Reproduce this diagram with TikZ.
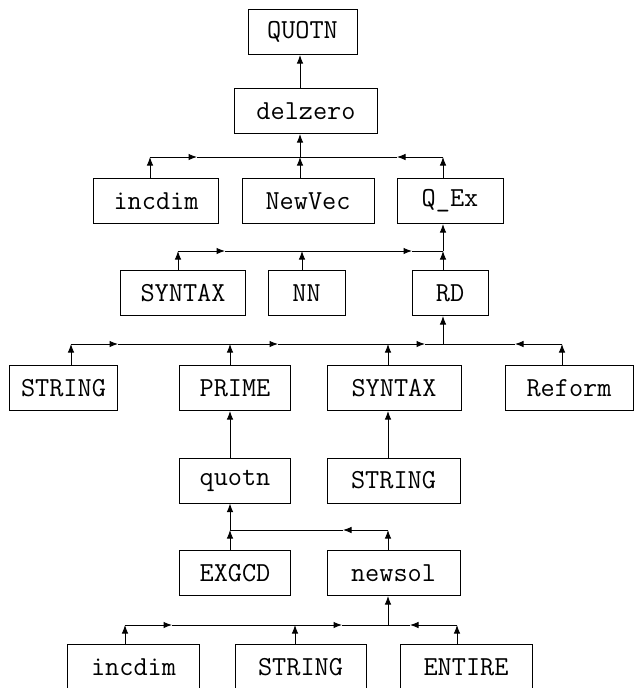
\documentclass[tikz,border=0pt]{standalone}
\usetikzlibrary{positioning,arrows.meta}
\begin{document}
\begin{tikzpicture}[x=0.4pt,y=-0.4pt,>={Latex[length=3.4pt,width=2.6pt]},box/.style={draw,shape=rectangle,font=\fontsize{11}{13}\ttfamily,minimum height=18pt,inner sep=0pt}]
   \useasboundingbox (0,0) rectangle (634,688);
   \clip (0,0) rectangle (634,688);
   % modules
   \node[box,minimum width=43.6pt] (QUOTN)    at (302.5,32)  { QUOTN   } ;
   \node[box,minimum width=56.8pt] (delzero)  at (306,111)   { delzero } ;
   \node[box,minimum width=49.6pt] (incdim)   at (156,201)   { incdim  } ;
   \node[box,minimum width=52.8pt] (NewVec)   at (308,201)   { NewVec  } ;
   \node[box,minimum width=42.4pt] (QEx)      at (450,201)   { Q\_Ex   } ;
   \node[box,minimum width=49.6pt] (SYNTAX)   at (183,293)   { SYNTAX  } ;
   \node[box,minimum width=30.8pt] (NN)       at (306.5,293) { NN      } ;
   \node[box,minimum width=30.4pt] (RD)       at (450,293)   { RD      } ;
   \node[box,minimum width=42.8pt] (STRING)   at (63.5,388)  { STRING  } ;
   \node[box,minimum width=44pt  ] (PRIME)    at (235,388)   { PRIME   } ;
   \node[box,minimum width=53.6pt] (SYNTAX2)  at (394,388)   { SYNTAX  } ;
   \node[box,minimum width=51.2pt] (Reform)   at (569,388)   { Reform  } ;
   \node[box,minimum width=44pt  ] (quotn)    at (235,480.5) { quotn   } ;
   \node[box,minimum width=53.2pt] (STRING2)  at (393.5,480.5) { STRING } ;
   \node[box,minimum width=44pt  ] (EXGCD)    at (235,573)   { EXGCD   } ;
   \node[box,minimum width=53.2pt] (newsol)   at (393.5,573) { newsol  } ;
   \node[box,minimum width=52.4pt] (incdim2)  at (133.5,667) { incdim  } ;
   \node[box,minimum width=52.4pt] (STRING3)  at (300.5,667) { STRING  } ;
   \node[box,minimum width=52.8pt] (ENTIRE)   at (466,667)   { ENTIRE  } ;
   % junctions on the buses
   \coordinate (j11) at (150,157); \coordinate (j12) at (300,157); \coordinate (j13) at (443,157);
   \coordinate (a11) at (197,157); \coordinate (a13) at (397,157);
   \coordinate (j21) at (178,251); \coordinate (j22) at (302,251); \coordinate (j23) at (443,251);
   \coordinate (a21) at (225,251); \coordinate (a22) at (412,251);
   \coordinate (j31) at (71,344);  \coordinate (j32) at (230,344); \coordinate (j33) at (388,344);
   \coordinate (j34) at (443,344); \coordinate (j35) at (562,344);
   \coordinate (a31) at (118,344); \coordinate (a32) at (278,344); \coordinate (a33) at (425,344);
   \coordinate (a35) at (515,344);
   \coordinate (j41) at (230,530); \coordinate (j42) at (388,530); \coordinate (a42) at (343,530);
   \coordinate (j51) at (125,625); \coordinate (j52) at (295,625); \coordinate (j53) at (388,625);
   \coordinate (j54) at (457,625);
   \coordinate (a51) at (172,625); \coordinate (a52) at (342,625); \coordinate (a54) at (410,625);
   % delzero -> QUOTN
   \draw[->] (delzero.north -| j12) -- (QUOTN.south -| j12);
   % incdim, NewVec, Q_Ex -> delzero
   \draw[->] (incdim.north -| j11) -- (j11);
   \draw[->] (j11) -- (a11); \draw (a11) -- (j12);
   \draw[->] (NewVec.north -| j12) -- (j12);
   \draw[->] (QEx.north -| j13) -- (j13);
   \draw[->] (j13) -- (a13); \draw (a13) -- (j12);
   \draw[->] (j12) -- (delzero.south -| j12);
   % SYNTAX, NN, RD -> Q_Ex
   \draw[->] (SYNTAX.north -| j21) -- (j21);
   \draw[->] (j21) -- (a21); \draw (a21) -- (j22);
   \draw[->] (NN.north -| j22) -- (j22);
   \draw[->] (j22) -- (a22); \draw (a22) -- (j23);
   \draw[->] (RD.north -| j23) -- (j23);
   \draw[->] (j23) -- (QEx.south -| j23);
   % STRING, PRIME, SYNTAX, Reform -> RD
   \draw[->] (STRING.north -| j31) -- (j31);
   \draw[->] (j31) -- (a31); \draw (a31) -- (j32);
   \draw[->] (PRIME.north -| j32) -- (j32);
   \draw[->] (j32) -- (a32); \draw (a32) -- (j33);
   \draw[->] (SYNTAX2.north -| j33) -- (j33);
   \draw[->] (j33) -- (a33); \draw (a33) -- (j34);
   \draw[->] (Reform.north -| j35) -- (j35);
   \draw[->] (j35) -- (a35); \draw (a35) -- (j34);
   \draw[->] (j34) -- (RD.south -| j34);
   % quotn -> PRIME, STRING -> SYNTAX
   \draw[->] (quotn.north -| j32) -- (PRIME.south -| j32);
   \draw[->] (STRING2.north -| j33) -- (SYNTAX2.south -| j33);
   % EXGCD, newsol -> quotn
   \draw[->] (EXGCD.north -| j41) -- (j41);
   \draw[->] (newsol.north -| j42) -- (j42);
   \draw[->] (j42) -- (a42); \draw (a42) -- (j41);
   \draw[->] (j41) -- (quotn.south -| j41);
   % incdim, STRING, ENTIRE -> newsol
   \draw[->] (incdim2.north -| j51) -- (j51);
   \draw[->] (j51) -- (a51); \draw (a51) -- (j52);
   \draw[->] (STRING3.north -| j52) -- (j52);
   \draw[->] (j52) -- (a52); \draw (a52) -- (j53);
   \draw[->] (ENTIRE.north -| j54) -- (j54);
   \draw[->] (j54) -- (a54); \draw (a54) -- (j53);
   \draw[->] (j53) -- (newsol.south -| j53);
\end{tikzpicture}
\end{document}
